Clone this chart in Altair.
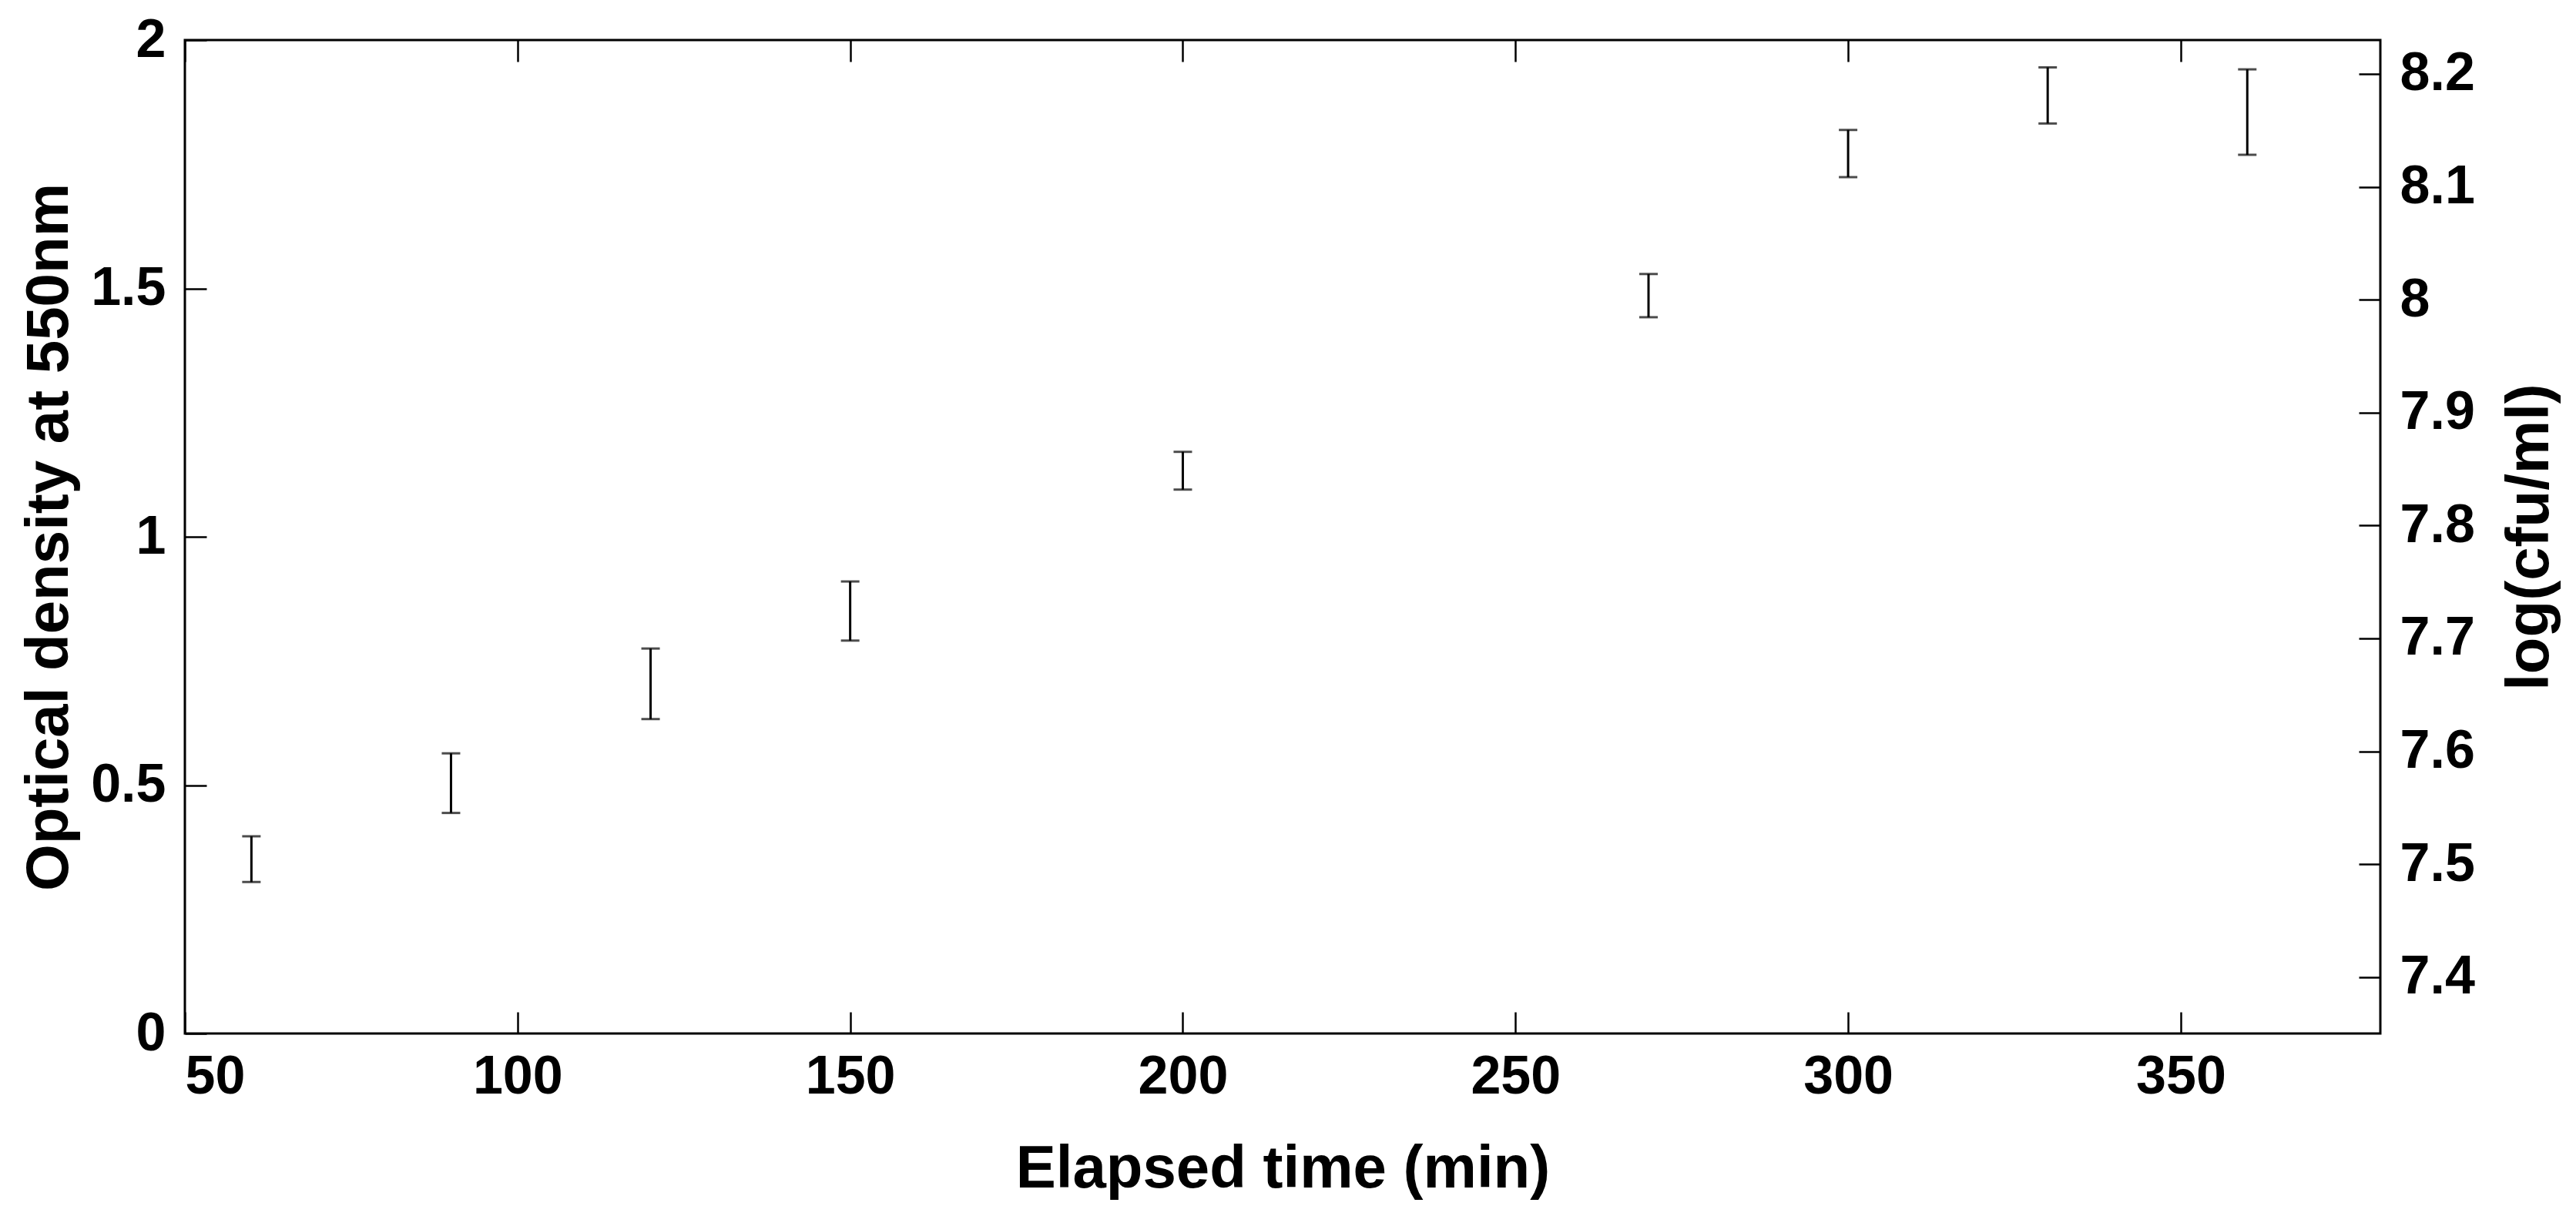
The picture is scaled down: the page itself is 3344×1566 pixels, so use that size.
import altair as alt
import pandas as pd

# Data
time_min = [60, 90, 120, 150, 200, 270, 300, 330, 360]
od_low = [0.305, 0.444, 0.633, 0.791, 1.095, 1.442, 1.724, 1.832, 1.769]
od_high = [0.397, 0.564, 0.775, 0.910, 1.171, 1.529, 1.819, 1.945, 1.941]

x_ticks = [50, 100, 150, 200, 250, 300, 350]
left_ticks = [0, 0.5, 1, 1.5, 2]
right_ticks = [7.4, 7.5, 7.6, 7.7, 7.8, 7.9, 8.0, 8.1, 8.2]
x_domain = [50, 380]
left_domain = [0, 2]
right_domain = [7.35, 8.23]

W, H = 2850, 1290
FONT = "Liberation Sans"
TICK_FS = 70
TITLE_FS = 78

df = pd.DataFrame({"t": time_min, "lo": od_low, "hi": od_high})
df_right = pd.DataFrame({"v": right_ticks})

xscale = alt.Scale(domain=x_domain, nice=False, zero=False)
lscale = alt.Scale(domain=left_domain, nice=False, zero=False)
rscale = alt.Scale(domain=right_domain, nice=False, zero=False)

common_axis = dict(domain=False, grid=False, labelFont=FONT, labelFontSize=TICK_FS,
                   labelFontWeight="bold", labelColor="black", titleFont=FONT,
                   titleFontSize=TITLE_FS, titleFontWeight="bold", titleColor="black",
                   tickColor="black", tickWidth=2.5, format="~r")

def labels_only(**kw):
    d = dict(common_axis)
    d.update(ticks=False)
    d.update(kw)
    return alt.Axis(**d)

def ticks_only(**kw):
    d = dict(common_axis)
    d.update(labels=False, ticks=True, tickSize=28, title=None)
    d.update(kw)
    return alt.Axis(**d)

# Layer 1: error bar stems; bottom labels on x, left labels on y
stems = alt.Chart(df).mark_rule(color="black", strokeWidth=3).encode(
    x=alt.X("t:Q", scale=xscale,
            axis=labels_only(orient="bottom", values=x_ticks, title="Elapsed time (min)",
                             labelPadding=22, titleX=W / 2, titleY=176,
                             titleBaseline="middle", titleAlign="center")),
    y=alt.Y("lo:Q", scale=lscale,
            axis=labels_only(orient="left", values=left_ticks, title="Optical density at 550nm",
                             labelPadding=25, titleX=-176, titleY=H / 2, titleAngle=-90,
                             titleBaseline="middle", titleAlign="center")),
    y2="hi:Q",
)

# Layer 2: caps (top) ; x ticks inward at bottom, y ticks inward at left
caps_top = alt.Chart(df).mark_tick(color="black", size=24, thickness=3, orient="horizontal").encode(
    x=alt.X("t:Q", scale=xscale, axis=ticks_only(orient="top", offset=-H, values=x_ticks)),
    y=alt.Y("hi:Q", scale=lscale, axis=ticks_only(orient="right", offset=-W, values=left_ticks)),
)

# Layer 3: caps (bottom); x ticks inward at top
caps_bot = alt.Chart(df).mark_tick(color="black", size=24, thickness=3, orient="horizontal").encode(
    x=alt.X("t:Q", scale=xscale, axis=ticks_only(orient="bottom", offset=-H, values=x_ticks)),
    y=alt.Y("lo:Q", scale=lscale, axis=None),
)

# Layer 4: right axis labels (log cfu/ml)
right_lab = alt.Chart(df_right).mark_point(opacity=0).encode(
    x=alt.X("v:Q", scale=alt.Scale(domain=right_domain), axis=None),
    y=alt.Y("v:Q", scale=rscale,
            axis=labels_only(orient="right", values=right_ticks, title="log(cfu/ml)",
                             labelPadding=25, titleX=194, titleY=H / 2,
                             titleAngle=-90, titleBaseline="middle", titleAlign="center")),
)

# Layer 5: right axis inward ticks
right_ticks_layer = alt.Chart(df_right).mark_point(opacity=0).encode(
    x=alt.X("v:Q", scale=alt.Scale(domain=right_domain), axis=None),
    y=alt.Y("v:Q", scale=rscale, axis=ticks_only(orient="left", offset=-W, values=right_ticks)),
)

chart = alt.layer(stems, caps_top, caps_bot, right_lab, right_ticks_layer).resolve_scale(
    x="independent", y="independent"
).resolve_axis(x="independent", y="independent").properties(
    width=W, height=H,
    autosize=alt.AutoSizeParams(type="none"),
    padding={"left": 232, "top": 44, "right": 246, "bottom": 216},
    background="white",
).configure_view(stroke="black", strokeWidth=3, strokeOpacity=1)

chart.save("out.html", embed_options={"renderer": "svg", "actions": False})
